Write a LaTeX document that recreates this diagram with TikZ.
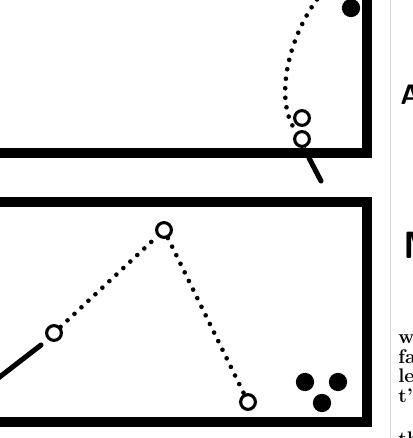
\documentclass[tikz,border=0pt]{standalone}
\usepackage{tikz}
\usetikzlibrary{calc}

\begin{document}
\begin{tikzpicture}[
        x=0.025cm, y=-0.025cm,
        cushion/.style={line width=6.8pt, line join=miter},
        cue/.style={line width=3.6pt, line cap=round},
        ball/.style={circle, draw, line width=2.2pt, fill=white,
          inner sep=0pt, minimum size=10.5pt},
        redball/.style={circle, fill, inner sep=0pt, minimum size=13pt},
        track/.style={line width=3.3pt, line cap=round,
          dash pattern=on 0pt off 6.8pt},
        coltext/.style={anchor=base west, inner sep=0pt,
          font=\bfseries\fontsize{14}{14}\selectfont}
      ]
        \useasboundingbox (0,0) rectangle (412,438);
        \clip (0,0) rectangle (412,438);

        % column rule and neighbouring column
        \draw[gray!35, line width=0.6pt] (390,0) -- (390,438);
        \node[coltext, font=\sffamily\bfseries\fontsize{20}{20}\selectfont] (headA) at (400,105) {A};
        \node[coltext, font=\sffamily\bfseries\fontsize{27}{27}\selectfont] (headM) at (403,258) {M};
        \node[coltext] (lineA) at (398,343) {w};
        \node[coltext] (lineB) at (398,363) {fa};
        \node[coltext] (lineC) at (398,382) {le};
        \node[coltext] (lineD) at (398,402) {t'};
        \node[coltext] (lineE) at (398,445) {th};

        % upper table
        \draw[cushion] (-10,153) -- (367,153) -- (367,-10);
        \node[redball] (redTop) at (351,8) {};
        \node[ball] (ghostTop) at (302,118) {};
        \node[ball] (cueTop) at (302,139) {};
        \coordinate (entryTop) at (323,-8);
        \coordinate (tipTop) at (309,158);
        \coordinate (buttTop) at (321,181);
        \draw[track] (entryTop) .. controls (290,30) and (272,100) .. (cueTop);
        \draw[line width=1.2pt] (cueTop) -- (tipTop);
        \draw[cue] (tipTop) -- (buttTop);

        % lower table
        \draw[cushion] (-10,202) -- (367,202) -- (367,422) -- (-10,422);
        \node[ball] (cueStart) at (54,333) {};
        \node[ball] (cueBank) at (164,230) {};
        \node[ball] (cueEnd) at (248,402) {};
        \node[redball] (redA) at (305,382) {};
        \node[redball] (redB) at (338,382) {};
        \node[redball] (redC) at (322,403) {};
        \coordinate (tipLow) at (41,345);
        \coordinate (buttLow) at (-12,386);
        \draw[cue] (buttLow) -- (tipLow);
        \draw[track] (cueStart) -- (cueBank);
        \draw[track] (cueBank) -- (cueEnd);
      \end{tikzpicture}
\end{document}
